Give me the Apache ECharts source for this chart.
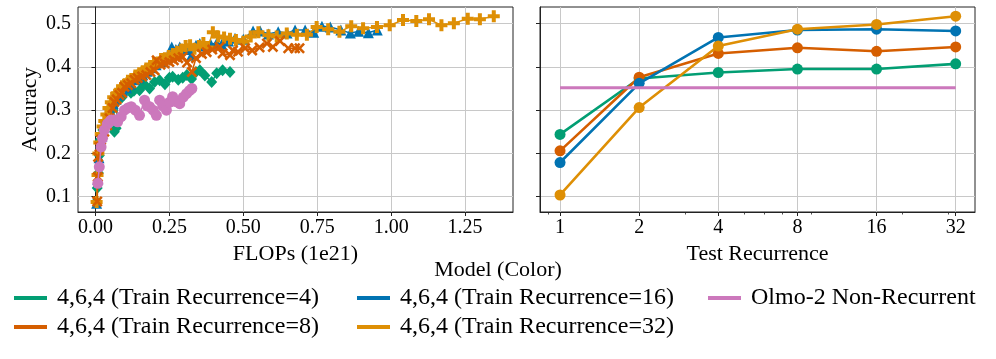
<!DOCTYPE html>
<html><head><meta charset="utf-8">
<script src="https://cdn.jsdelivr.net/npm/echarts@6/dist/echarts.min.js"></script>
<style>html,body{margin:0;padding:0;background:#fff}#c{width:996px;height:359px}</style>
</head><body><div id="c"></div>
<script>
// ---------- data ----------
const names = ['4,6,4 (Train Recurrence=4)','4,6,4 (Train Recurrence=8)','4,6,4 (Train Recurrence=16)','4,6,4 (Train Recurrence=32)','Olmo-2 Non-Recurrent'];
const colors = ['#029E73','#D55E00','#0173B2','#DE8F05','#CC78BC'];

// left panel: [FLOPs (1e21), accuracy]
const flopsR4 = [[0.003,0.089],[0.006,0.12],[0.01,0.155],[0.013,0.195],[0.016,0.231],[0.025,0.254],[0.035,0.27],[0.045,0.29],[0.055,0.3],[0.064,0.25],[0.07,0.258],[0.075,0.323],[0.09,0.33],[0.109,0.35],[0.12,0.34],[0.13,0.345],[0.149,0.346],[0.165,0.36],[0.183,0.35],[0.2,0.365],[0.217,0.369],[0.235,0.36],[0.25,0.375],[0.261,0.377],[0.28,0.37],[0.295,0.375],[0.309,0.381],[0.325,0.372],[0.34,0.388],[0.353,0.392],[0.37,0.38],[0.393,0.365],[0.41,0.385],[0.43,0.392],[0.455,0.388]];
const flopsR8 = [[0.006,0.089],[0.008,0.146],[0.009,0.192],[0.014,0.215],[0.019,0.231],[0.03,0.25],[0.04,0.265],[0.048,0.281],[0.058,0.305],[0.064,0.319],[0.072,0.325],[0.081,0.335],[0.09,0.34],[0.098,0.354],[0.11,0.358],[0.121,0.362],[0.132,0.37],[0.143,0.374],[0.158,0.378],[0.172,0.381],[0.186,0.388],[0.2,0.392],[0.207,0.415],[0.22,0.405],[0.234,0.408],[0.25,0.411],[0.265,0.415],[0.28,0.42],[0.295,0.423],[0.31,0.41],[0.326,0.388],[0.34,0.42],[0.36,0.43],[0.376,0.434],[0.395,0.44],[0.42,0.446],[0.43,0.431],[0.455,0.427],[0.465,0.438],[0.482,0.435],[0.506,0.443],[0.53,0.438],[0.555,0.445],[0.58,0.454],[0.6,0.446],[0.624,0.46],[0.652,0.443],[0.675,0.443],[0.69,0.443]];
const flopsR16 = [[0.004,0.085],[0.008,0.14],[0.012,0.19],[0.016,0.22],[0.022,0.24],[0.028,0.26],[0.035,0.275],[0.043,0.29],[0.05,0.3],[0.06,0.315],[0.07,0.325],[0.08,0.335],[0.092,0.345],[0.105,0.352],[0.118,0.36],[0.132,0.37],[0.146,0.375],[0.16,0.382],[0.175,0.39],[0.19,0.398],[0.205,0.405],[0.22,0.412],[0.235,0.42],[0.25,0.43],[0.258,0.446],[0.272,0.44],[0.285,0.446],[0.3,0.44],[0.313,0.44],[0.325,0.427],[0.34,0.45],[0.353,0.454],[0.37,0.448],[0.39,0.452],[0.41,0.455],[0.427,0.452],[0.45,0.46],[0.472,0.466],[0.5,0.464],[0.533,0.483],[0.557,0.483],[0.585,0.476],[0.618,0.481],[0.648,0.478],[0.675,0.485],[0.709,0.485],[0.738,0.48],[0.766,0.494],[0.794,0.492],[0.83,0.485],[0.862,0.478],[0.89,0.482],[0.923,0.479],[0.953,0.485]];
const flopsR32 = [[0.004,0.088],[0.007,0.15],[0.01,0.2],[0.013,0.225],[0.018,0.245],[0.024,0.262],[0.03,0.275],[0.037,0.29],[0.044,0.305],[0.052,0.318],[0.06,0.33],[0.07,0.338],[0.08,0.345],[0.09,0.355],[0.1,0.36],[0.11,0.368],[0.122,0.372],[0.135,0.38],[0.148,0.385],[0.16,0.39],[0.172,0.396],[0.185,0.402],[0.198,0.408],[0.21,0.41],[0.222,0.418],[0.235,0.42],[0.248,0.425],[0.262,0.43],[0.276,0.435],[0.29,0.44],[0.305,0.448],[0.32,0.45],[0.335,0.442],[0.35,0.448],[0.365,0.455],[0.38,0.445],[0.397,0.48],[0.415,0.47],[0.435,0.468],[0.455,0.465],[0.475,0.462],[0.5,0.458],[0.525,0.47],[0.551,0.48],[0.585,0.473],[0.613,0.47],[0.647,0.477],[0.681,0.474],[0.715,0.474],[0.748,0.492],[0.787,0.487],[0.825,0.481],[0.865,0.494],[0.905,0.489],[0.952,0.492],[0.995,0.496],[1.04,0.508],[1.085,0.506],[1.128,0.51],[1.17,0.496],[1.212,0.501],[1.259,0.511],[1.30,0.51],[1.347,0.517]];
const flopsOlmo = [[0.008,0.131],[0.013,0.169],[0.019,0.215],[0.024,0.235],[0.03,0.254],[0.04,0.268],[0.048,0.273],[0.053,0.277],[0.064,0.277],[0.075,0.273],[0.087,0.285],[0.098,0.3],[0.11,0.305],[0.121,0.308],[0.135,0.3],[0.149,0.288],[0.166,0.323],[0.175,0.31],[0.183,0.308],[0.195,0.3],[0.206,0.288],[0.217,0.323],[0.228,0.31],[0.24,0.3],[0.25,0.318],[0.261,0.331],[0.272,0.32],[0.285,0.315],[0.297,0.33],[0.308,0.338],[0.318,0.345],[0.326,0.35]];

// right panel
const testRecurrence = [1, 2, 4, 8, 16, 32];
const accR4  = [0.244, 0.373, 0.387, 0.395, 0.395, 0.407];
const accR8  = [0.206, 0.376, 0.431, 0.444, 0.436, 0.446];
const accR16 = [0.179, 0.362, 0.468, 0.485, 0.487, 0.483];
const accR32 = [0.104, 0.306, 0.448, 0.487, 0.498, 0.517];
const accOlmo = [0.352, 0.352, 0.352, 0.352, 0.352, 0.352];

const flopsTicks = [0, 0.25, 0.5, 0.75, 1.0, 1.25];
const accTicks = [0.1, 0.2, 0.3, 0.4, 0.5];
const recTicks = [1, 2, 4, 8, 16, 32];
const recMinorTicks = [0.9, 3, 5, 6, 7, 9, 20, 30];

// ---------- chart ----------
const FONT = 'Liberation Serif';
const plusPath = 'path://M1,0H2V1H3V2H2V3H1V2H0V1H1Z';
const xPath = 'path://M0,0.5L0.5,0L1.5,1L2.5,0L3,0.5L2,1.5L3,2.5L2.5,3L1.5,2L0.5,3L0,2.5L1,1.5Z';
const leftSymbols = ['diamond', xPath, 'triangle', plusPath, 'circle'];
const leftSizes = [[11, 12], 11, 11, 12, 11];
const leftZ = [2, 5, 3, 4, 6];
const leftData = [flopsR4, flopsR8, flopsR16, flopsR32, flopsOlmo];
const rightData = [accR4, accR8, accR16, accR32, accOlmo];

const gridLine = {show: true, lineStyle: {color: '#c8c8c8', width: 1}};
const axLine = {show: true, lineStyle: {color: '#222', width: 1}};
const tickStyle = {show: true, length: 4, lineStyle: {color: '#222', width: 1}};
const lab = {color: '#000', fontFamily: FONT, fontSize: 20};

const series = [];
for (let i = 0; i < 5; i++) {
  series.push({
    name: names[i], type: 'line', xAxisIndex: 0, yAxisIndex: 0,
    data: leftData[i], symbol: leftSymbols[i], symbolSize: leftSizes[i],
    showSymbol: true, animation: false,
    lineStyle: {color: colors[i], width: 1.5}, itemStyle: {color: colors[i]},
    z: leftZ[i]
  });
}
for (let i = 0; i < 5; i++) {
  series.push({
    name: names[i], type: 'line', xAxisIndex: 1, yAxisIndex: 1,
    data: testRecurrence.map((r, k) => [r, rightData[i][k]]),
    symbol: i < 4 ? 'circle' : 'none', symbolSize: 11, showSymbol: i < 4, animation: false,
    lineStyle: {color: colors[i], width: i < 4 ? 2.6 : 3}, itemStyle: {color: colors[i]},
    z: 2 + i
  });
}

const legendBase = {
  orient: 'vertical', icon: 'rect', itemWidth: 33, itemHeight: 4, itemGap: 5, selectedMode: false,
  textStyle: {fontFamily: FONT, fontSize: 24, color: '#000', lineHeight: 24, padding: [0, 0, 0, 5]}
};

const option = {
  backgroundColor: '#fff',
  animation: false,
  grid: [
    {left: 78, top: 7, width: 435, height: 205, show: true, borderColor: '#222', borderWidth: 1, containLabel: false},
    {left: 540, top: 7, width: 435, height: 205, show: true, borderColor: '#222', borderWidth: 1, containLabel: false}
  ],
  xAxis: [
    {type: 'value', gridIndex: 0, min: -0.059, max: 1.412,
     name: 'FLOPs (1e21)', nameLocation: 'middle', nameGap: 25,
     nameTextStyle: {fontFamily: FONT, fontSize: 22, color: '#000'},
     axisLine: axLine, axisTick: Object.assign({customValues: flopsTicks}, tickStyle),
     axisLabel: Object.assign({customValues: flopsTicks, margin: 6, formatter: v => v.toFixed(2)}, lab),
     splitLine: gridLine},
    {type: 'log', logBase: 2, gridIndex: 1, min: 0.839, max: 37.9,
     name: 'Test Recurrence', nameLocation: 'middle', nameGap: 25,
     nameTextStyle: {fontFamily: FONT, fontSize: 22, color: '#000'},
     axisLine: axLine, axisTick: Object.assign({customValues: recTicks}, tickStyle),
     axisLabel: Object.assign({customValues: recTicks, margin: 6, formatter: v => String(Math.round(v))}, lab),
     splitLine: gridLine},
    {type: 'log', logBase: 2, gridIndex: 1, min: 0.839, max: 37.9, position: 'bottom', offset: 0,
     axisLine: {show: false}, axisLabel: {show: false}, splitLine: {show: false},
     axisTick: {show: true, customValues: recMinorTicks, length: 2.5, lineStyle: {color: '#222', width: 0.8}}}
  ],
  yAxis: [
    {type: 'value', gridIndex: 0, min: 0.0647, max: 0.5383,
     name: 'Accuracy', nameLocation: 'middle', nameGap: 37, nameRotate: 90,
     nameTextStyle: {fontFamily: FONT, fontSize: 22, color: '#000'},
     axisLine: axLine, axisTick: Object.assign({customValues: accTicks}, tickStyle),
     axisLabel: Object.assign({customValues: accTicks, margin: 7, formatter: v => v.toFixed(1)}, lab),
     splitLine: gridLine},
    {type: 'value', gridIndex: 1, min: 0.0647, max: 0.5383,
     axisLine: axLine, axisTick: Object.assign({customValues: accTicks}, tickStyle),
     axisLabel: {show: false, customValues: accTicks},
     splitLine: gridLine}
  ],
  legend: [
    Object.assign({left: 9, top: 281, data: [names[0], names[1]]}, legendBase),
    Object.assign({left: 352, top: 281, data: [names[2], names[3]]}, legendBase),
    Object.assign({left: 703, top: 281, data: [names[4]]}, legendBase)
  ],
  graphic: [
    {type: 'text', x: 498, y: 270, style: {text: 'Model (Color)', fontFamily: FONT, fontSize: 22, fill: '#000', align: 'center', verticalAlign: 'middle'}}
  ],
  series: series
};

const chart = echarts.init(document.getElementById('c'), null, {renderer: 'canvas'});
chart.setOption(option);
</script>
</body></html>
